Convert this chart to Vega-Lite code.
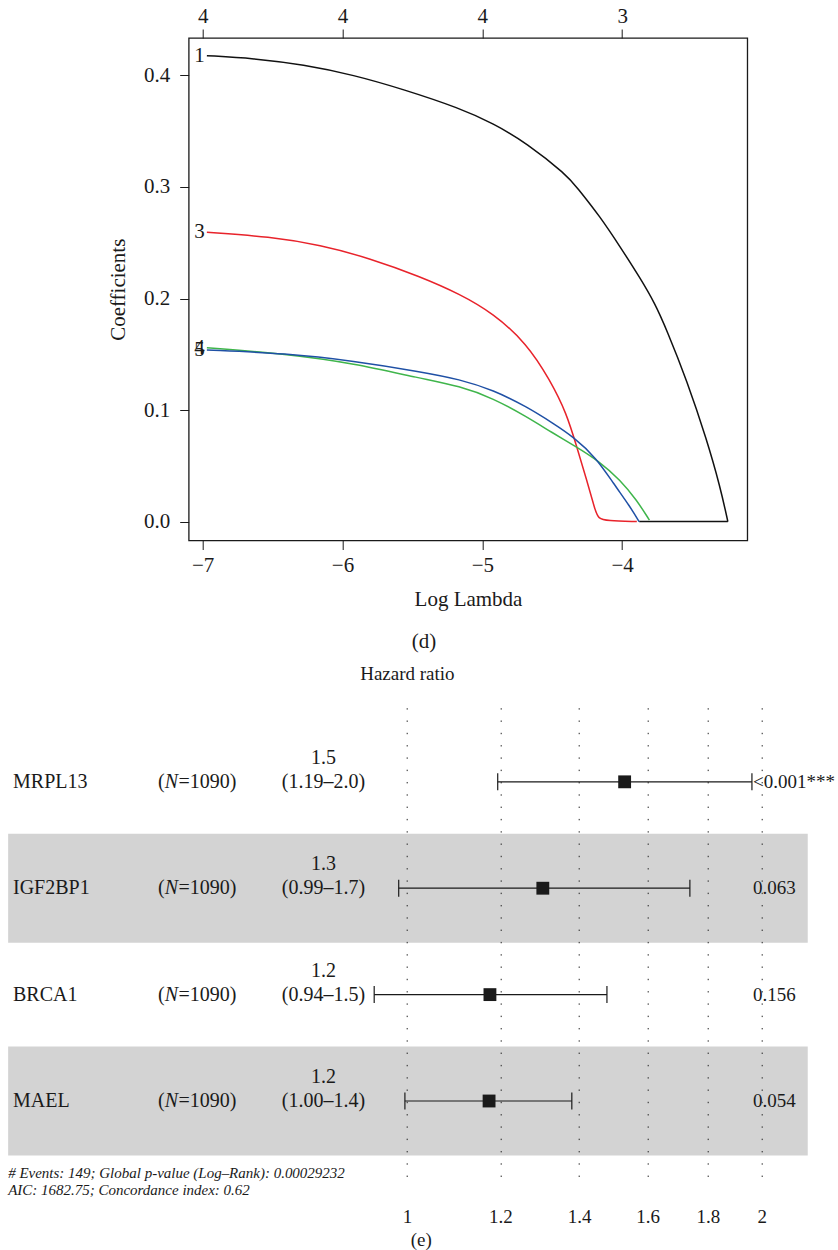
{
  "$schema": "https://vega.github.io/schema/vega-lite/v6.json",
  "autosize": {"type": "pad"},
  "padding": {"left": 7.7, "top": 4, "right": 0, "bottom": 0},
  "background": "white",
  "bounds": "flush",
  "spacing": 157.5,
  "config": {
    "font": "Liberation Serif",
    "view": {"stroke": null},
    "axis": {"labelColor": "#1a1a1a", "titleColor": "#1a1a1a", "tickColor": "#1a1a1a", "labelFont": "Liberation Serif", "titleFont": "Liberation Serif", "titleFontWeight": "normal"},
    "title": {"font": "Liberation Serif", "fontWeight": "normal", "color": "#1a1a1a"},
    "text": {"font": "Liberation Serif", "color": "#1a1a1a"}
  },
  "vconcat": [
    {
      "width": 558.6,
      "height": 502.5,
      "view": {"stroke": "#1a1a1a", "strokeWidth": 1.3, "fill": null},
      "title": {"text": "(d)", "orient": "bottom", "anchor": "middle", "frame": "group", "dx": -44, "offset": 22, "fontSize": 21},
      "data": {"values": [
        {"v": "1", "s": "a", "L": -6.97, "c": 0.4178},
        {"v": "1", "s": "a", "L": -6.637, "c": 0.4154},
        {"v": "1", "s": "a", "L": -6.279, "c": 0.4097},
        {"v": "1", "s": "a", "L": -5.921, "c": 0.4005},
        {"v": "1", "s": "a", "L": -5.563, "c": 0.3875},
        {"v": "1", "s": "a", "L": -5.16, "c": 0.3706},
        {"v": "1", "s": "a", "L": -4.922, "c": 0.357},
        {"v": "1", "s": "a", "L": -4.683, "c": 0.3395},
        {"v": "1", "s": "a", "L": -4.397, "c": 0.3108},
        {"v": "1", "s": "a", "L": -4.325, "c": 0.300},
        {"v": "1", "s": "a", "L": -4.158, "c": 0.2735},
        {"v": "1", "s": "a", "L": -4.015, "c": 0.2465},
        {"v": "1", "s": "a", "L": -3.872, "c": 0.2185},
        {"v": "1", "s": "a", "L": -3.765, "c": 0.1955},
        {"v": "1", "s": "a", "L": -3.681, "c": 0.1717},
        {"v": "1", "s": "a", "L": -3.538, "c": 0.1269},
        {"v": "1", "s": "a", "L": -3.394, "c": 0.0731},
        {"v": "1", "s": "a", "L": -3.299, "c": 0.0312},
        {"v": "1", "s": "a", "L": -3.244, "c": 0.0},
        {"v": "1", "s": "b", "L": -3.878, "c": 0.0},
        {"v": "1", "s": "b", "L": -3.244, "c": 0.0},
        {"v": "3", "s": "a", "L": -6.97, "c": 0.2594},
        {"v": "3", "s": "a", "L": -6.518, "c": 0.2554},
        {"v": "3", "s": "a", "L": -6.16, "c": 0.248},
        {"v": "3", "s": "a", "L": -5.802, "c": 0.236},
        {"v": "3", "s": "a", "L": -5.444, "c": 0.2196},
        {"v": "3", "s": "a", "L": -5.16, "c": 0.204},
        {"v": "3", "s": "a", "L": -4.922, "c": 0.1867},
        {"v": "3", "s": "a", "L": -4.683, "c": 0.1598},
        {"v": "3", "s": "a", "L": -4.516, "c": 0.1269},
        {"v": "3", "s": "a", "L": -4.397, "c": 0.097},
        {"v": "3", "s": "a", "L": -4.325, "c": 0.0671},
        {"v": "3", "s": "a", "L": -4.253, "c": 0.0372},
        {"v": "3", "s": "a", "L": -4.194, "c": 0.0103},
        {"v": "3", "s": "a", "L": -4.17, "c": 0.0025},
        {"v": "3", "s": "a", "L": -4.11, "c": 0.0007},
        {"v": "3", "s": "a", "L": -3.895, "c": 0.0},
        {"v": "4", "s": "a", "L": -6.97, "c": 0.1559},
        {"v": "4", "s": "a", "L": -6.399, "c": 0.1502},
        {"v": "4", "s": "a", "L": -5.921, "c": 0.1419},
        {"v": "4", "s": "a", "L": -5.444, "c": 0.1284},
        {"v": "4", "s": "a", "L": -5.16, "c": 0.1215},
        {"v": "4", "s": "a", "L": -4.922, "c": 0.1105},
        {"v": "4", "s": "a", "L": -4.683, "c": 0.094},
        {"v": "4", "s": "a", "L": -4.493, "c": 0.0791},
        {"v": "4", "s": "a", "L": -4.349, "c": 0.0686},
        {"v": "4", "s": "a", "L": -4.158, "c": 0.0536},
        {"v": "4", "s": "a", "L": -4.015, "c": 0.0372},
        {"v": "4", "s": "a", "L": -3.896, "c": 0.0193},
        {"v": "4", "s": "a", "L": -3.805, "c": 0.0013},
        {"v": "5", "s": "a", "L": -6.97, "c": 0.1538},
        {"v": "5", "s": "a", "L": -6.399, "c": 0.1508},
        {"v": "5", "s": "a", "L": -5.921, "c": 0.144},
        {"v": "5", "s": "a", "L": -5.444, "c": 0.1344},
        {"v": "5", "s": "a", "L": -5.16, "c": 0.1275},
        {"v": "5", "s": "a", "L": -4.922, "c": 0.1179},
        {"v": "5", "s": "a", "L": -4.683, "c": 0.103},
        {"v": "5", "s": "a", "L": -4.493, "c": 0.088},
        {"v": "5", "s": "a", "L": -4.349, "c": 0.076},
        {"v": "5", "s": "a", "L": -4.182, "c": 0.0567},
        {"v": "5", "s": "a", "L": -4.063, "c": 0.0343},
        {"v": "5", "s": "a", "L": -3.943, "c": 0.0133},
        {"v": "5", "s": "a", "L": -3.879, "c": 0.0}
      ]},
      "resolve": {"axis": {"x": "independent"}},
      "layer": [
        {
          "mark": {"type": "line", "strokeWidth": 1.5, "interpolate": "basis"},
          "encoding": {
            "x": {"field": "L", "type": "quantitative",
                  "scale": {"domain": [-7.1, -3.105], "nice": false, "zero": false},
                  "axis": {"values": [-7, -6, -5, -4], "format": "d", "title": "Log Lambda", "grid": false, "domain": false, "tickSize": 9, "tickWidth": 1, "labelPadding": 5, "labelFontSize": 21, "titleFontSize": 21, "titlePadding": 13}},
            "y": {"field": "c", "type": "quantitative",
                  "scale": {"domain": [-0.017, 0.4336], "nice": false, "zero": false},
                  "axis": {"values": [0, 0.1, 0.2, 0.3, 0.4], "format": ".1f", "title": "Coefficients", "grid": false, "domain": false, "tickSize": 9, "tickWidth": 1, "labelPadding": 10, "labelFontSize": 21, "titleFontSize": 21, "titlePadding": 15}},
            "color": {"field": "v", "type": "nominal", "scale": {"domain": ["1", "3", "4", "5"], "range": ["#111111", "#e8232b", "#3fb54b", "#1f50a5"]}, "legend": null},
            "detail": {"field": "s"}
          }
        },
        {
          "transform": [
            {"filter": "datum.s == 'a'"},
            {"aggregate": [{"op": "argmin", "field": "L", "as": "f"}], "groupby": ["v"]}
          ],
          "mark": {"type": "text", "align": "right", "baseline": "middle", "dx": -2, "fontSize": 21},
          "encoding": {
            "x": {"field": "f.L", "type": "quantitative",
                  "axis": {"orient": "top", "values": [-7, -6, -5, -4], "labelExpr": "datum.value == -4 ? '3' : '4'", "title": null, "grid": false, "domain": false, "tickSize": 9, "tickWidth": 1, "labelPadding": 3, "labelFontSize": 21}},
            "y": {"field": "f.c", "type": "quantitative"},
            "text": {"field": "v"}
          }
        }
      ]
    },
    {
      "width": 649.3,
      "height": 478,
      "title": {"text": "Hazard ratio", "anchor": "middle", "frame": "group", "dx": -106, "offset": 14, "fontSize": 19},
      "data": {"values": [
        {"gene": "MRPL13", "row": 1, "hr": 1.53, "lo": 1.194, "hi": 1.962, "hr_txt": "1.5", "ci_txt": "(1.19–2.0)", "p": "<0.001***"},
        {"gene": "IGF2BP1", "row": 2, "hr": 1.304, "lo": 0.984, "hi": 1.738, "hr_txt": "1.3", "ci_txt": "(0.99–1.7)", "p": "0.063"},
        {"gene": "BRCA1", "row": 3, "hr": 1.176, "lo": 0.938, "hi": 1.478, "hr_txt": "1.2", "ci_txt": "(0.94–1.5)", "p": "0.156"},
        {"gene": "MAEL", "row": 4, "hr": 1.174, "lo": 0.996, "hi": 1.38, "hr_txt": "1.2", "ci_txt": "(1.00–1.4)", "p": "0.054"}
      ]},
      "layer": [
        {
          "transform": [{"filter": "datum.row % 2 == 0"}],
          "mark": {"type": "bar", "height": 109, "color": "#d3d3d3"},
          "encoding": {
            "x": {"datum": 0.4588, "type": "quantitative",
                  "scale": {"type": "log", "domain": [0.65285, 2.3212], "nice": false},
                  "axis": {"values": [1, 1.2, 1.4, 1.6, 1.8, 2], "format": "~g", "grid": true, "gridDash": [1.4, 10.9], "gridColor": "#222222", "gridWidth": 1, "ticks": false, "tickSize": 0, "domain": false, "labelPadding": 31, "labelFontSize": 19, "labelFlush": false, "labelOverlap": false, "title": "(e)", "titleFontSize": 19, "titlePadding": 4, "titleX": 232, "zindex": 1}},
            "x2": {"datum": 2.188},
            "y": {"field": "row", "type": "quantitative", "scale": {"domain": [0.2638, 4.6625], "reverse": true, "nice": false, "zero": false}, "axis": null}
          }
        },
        {
          "mark": {"type": "rule", "strokeWidth": 1.2, "color": "#1a1a1a"},
          "encoding": {
            "x": {"field": "lo", "type": "quantitative"},
            "x2": {"field": "hi"},
            "y": {"field": "row", "type": "quantitative", "axis": null}
          }
        },
        {
          "mark": {"type": "tick", "orient": "vertical", "size": 17, "thickness": 1.2, "color": "#1a1a1a", "opacity": 1},
          "encoding": {
            "x": {"field": "lo", "type": "quantitative"},
            "y": {"field": "row", "type": "quantitative", "axis": null}
          }
        },
        {
          "mark": {"type": "tick", "orient": "vertical", "size": 17, "thickness": 1.2, "color": "#1a1a1a", "opacity": 1},
          "encoding": {
            "x": {"field": "hi", "type": "quantitative"},
            "y": {"field": "row", "type": "quantitative", "axis": null}
          }
        },
        {
          "mark": {"type": "square", "size": 165, "color": "#1a1a1a", "filled": true, "opacity": 1},
          "encoding": {
            "x": {"field": "hr", "type": "quantitative"},
            "y": {"field": "row", "type": "quantitative", "axis": null}
          }
        },
        {
          "mark": {"type": "text", "align": "left", "baseline": "middle", "fontSize": 20},
          "encoding": {
            "x": {"datum": 0.4632, "type": "quantitative"},
            "y": {"field": "row", "type": "quantitative", "axis": null},
            "text": {"field": "gene"}
          }
        },
        {
          "mark": {"type": "text", "align": "left", "baseline": "middle", "fontSize": 20, "text": "(", "dx": -39},
          "encoding": {
            "x": {"datum": 0.6636, "type": "quantitative"},
            "y": {"field": "row", "type": "quantitative", "axis": null}
          }
        },
        {
          "mark": {"type": "text", "align": "left", "baseline": "middle", "fontSize": 20, "fontStyle": "italic", "text": "N", "dx": -32.3},
          "encoding": {
            "x": {"datum": 0.6636, "type": "quantitative"},
            "y": {"field": "row", "type": "quantitative", "axis": null}
          }
        },
        {
          "mark": {"type": "text", "align": "left", "baseline": "middle", "fontSize": 20, "text": "=1090)", "dx": -18.6},
          "encoding": {
            "x": {"datum": 0.6636, "type": "quantitative"},
            "y": {"field": "row", "type": "quantitative", "axis": null}
          }
        },
        {
          "mark": {"type": "text", "align": "center", "baseline": "middle", "fontSize": 20, "dy": -24},
          "encoding": {
            "x": {"datum": 0.8495, "type": "quantitative"},
            "y": {"field": "row", "type": "quantitative", "axis": null},
            "text": {"field": "hr_txt"}
          }
        },
        {
          "mark": {"type": "text", "align": "center", "baseline": "middle", "fontSize": 20},
          "encoding": {
            "x": {"datum": 0.8495, "type": "quantitative"},
            "y": {"field": "row", "type": "quantitative", "axis": null},
            "text": {"field": "ci_txt"}
          }
        },
        {
          "mark": {"type": "text", "align": "left", "baseline": "middle", "fontSize": 19},
          "encoding": {
            "x": {"datum": 1.966, "type": "quantitative"},
            "y": {"field": "row", "type": "quantitative", "axis": null},
            "text": {"field": "p"}
          }
        },
        {
          "data": {"values": [{"note": "# Events: 149; Global p-value (Log–Rank): 0.00029232"}]},
          "mark": {"type": "text", "align": "left", "baseline": "middle", "fontSize": 15, "fontStyle": "italic"},
          "encoding": {
            "x": {"datum": 0.4588, "type": "quantitative"},
            "y": {"datum": 4.68, "type": "quantitative", "axis": null},
            "text": {"field": "note"}
          }
        },
        {
          "data": {"values": [{"note": "AIC: 1682.75; Concordance index: 0.62"}]},
          "mark": {"type": "text", "align": "left", "baseline": "middle", "fontSize": 15, "fontStyle": "italic"},
          "encoding": {
            "x": {"datum": 0.4588, "type": "quantitative"},
            "y": {"datum": 4.835, "type": "quantitative", "axis": null},
            "text": {"field": "note"}
          }
        }
      ]
    }
  ]
}
